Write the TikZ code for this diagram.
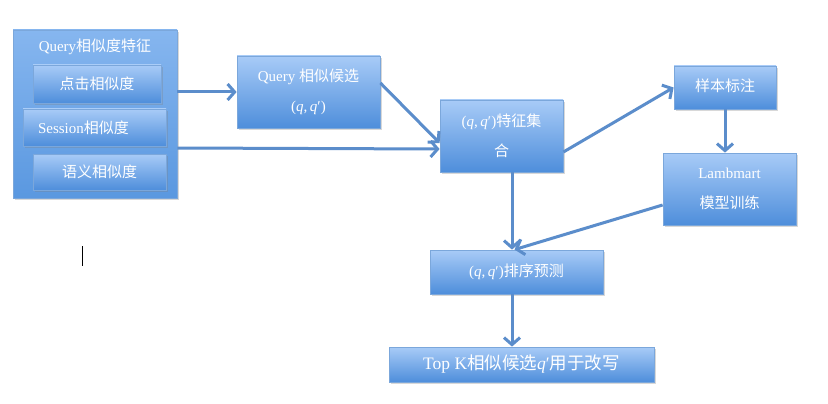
\documentclass[tikz,border=0pt]{standalone}
\usepackage{fontspec}
\setmainfont{Liberation Serif}
\newfontfamily\cjk{Noto Sans CJK SC}
\newcommand{\zh}[1]{{\cjk #1}}
\newcommand{\qv}{{\itshape q}}
\newcommand{\qp}{{\itshape q}′}
\newcommand{\qpair}{(\qv,\,\qp)}
\usetikzlibrary{arrows.meta,shadows}
\definecolor{btop}{HTML}{A8CBF7}
\definecolor{bbot}{HTML}{4E8EDB}
\definecolor{otop}{HTML}{86B6EF}
\definecolor{obot}{HTML}{5A98E0}
\definecolor{bdr}{HTML}{7BA7DB}
\definecolor{arr}{HTML}{5B8DCB}
\begin{document}
\begin{tikzpicture}[x=1pt,y=-1pt,
  box/.style={draw=bdr, line width=0.8pt, top color=btop, bottom color=bbot, text=white,
    inner sep=0pt, align=center, font=\fontsize{15}{30}\selectfont,
    drop shadow={opacity=0.3, shadow xshift=1.5pt, shadow yshift=-2pt}},
  outerbox/.style={box, top color=otop, bottom color=obot},
  lbl/.style={text=white, inner sep=0pt, font=\fontsize{15}{30}\selectfont},
  link/.style={draw=arr, line width=3pt, -{Straight Barb[length=7pt,width=16pt]}}]
\useasboundingbox[fill=white] (0,0) rectangle (828,404);

% left feature group
\node[outerbox, minimum width=164pt, minimum height=168pt] (qf) at (95,114) {};
\node[lbl] (qtitle) at (95,47) {Query\zh{相似度特征}};
\node[box, minimum width=128pt, minimum height=38pt] (click) at (97,84) {\zh{点击相似度}};
\node[box, minimum width=143pt, minimum height=37pt] (session) at (94.5,127.5) {Session\zh{相似度}\hspace{22pt}};
\node[box, minimum width=133pt, minimum height=36pt] (semantic) at (99.5,172) {\zh{语义相似度}};

% main flow
\node[box, minimum width=143pt, minimum height=72pt] (cand) at (308.5,92) {Query \zh{相似候选}\\\qpair};
\node[box, minimum width=123pt, minimum height=72pt] (feat) at (501.5,136) {\qpair\zh{特征集}\\\zh{合}};
\node[box, minimum width=102pt, minimum height=43pt] (label) at (725,87.5) {\raisebox{4pt}{\zh{样本标注}}};
\node[box, minimum width=133pt, minimum height=72pt] (lamb) at (729.5,189) {Lambmart\\\zh{模型训练}};
\node[box, minimum width=173pt, minimum height=44pt] (rank) at (516.5,272) {\raisebox{4pt}{\qpair\zh{排序预测}}};
\node[box, minimum width=265pt, minimum height=35pt, font=\fontsize{17.5}{20}\selectfont] (topk) at (521.5,364.5) {Top K\zh{相似候选}\qp\zh{用于改写}};

% connectors
\draw[link] (qf.east |- cand.west) -- (cand.west);
\draw[link] ([yshift=-34pt]qf.east) -- ([yshift=-13pt]feat.west);
\draw[link] ([yshift=9pt]cand.east) -- ([yshift=-7pt]feat.west);
\draw[link] ([yshift=-16pt]feat.east) -- (label.west);
\draw[link] (label.south) -- (label.south |- lamb.north);
\draw[link] ([xshift=10.5pt]feat.south) -- ([xshift=10.5pt]feat.south |- rank.north);
\draw[link] ([yshift=-16pt]lamb.west) -- ([xshift=-2pt]rank.north);
\draw[link] ([xshift=-4.5pt]rank.south) -- ([xshift=-4.5pt]rank.south |- topk.north);

% text cursor mark
\draw[line width=0.8pt] (82,246) -- (82,266);
\end{tikzpicture}
\end{document}
